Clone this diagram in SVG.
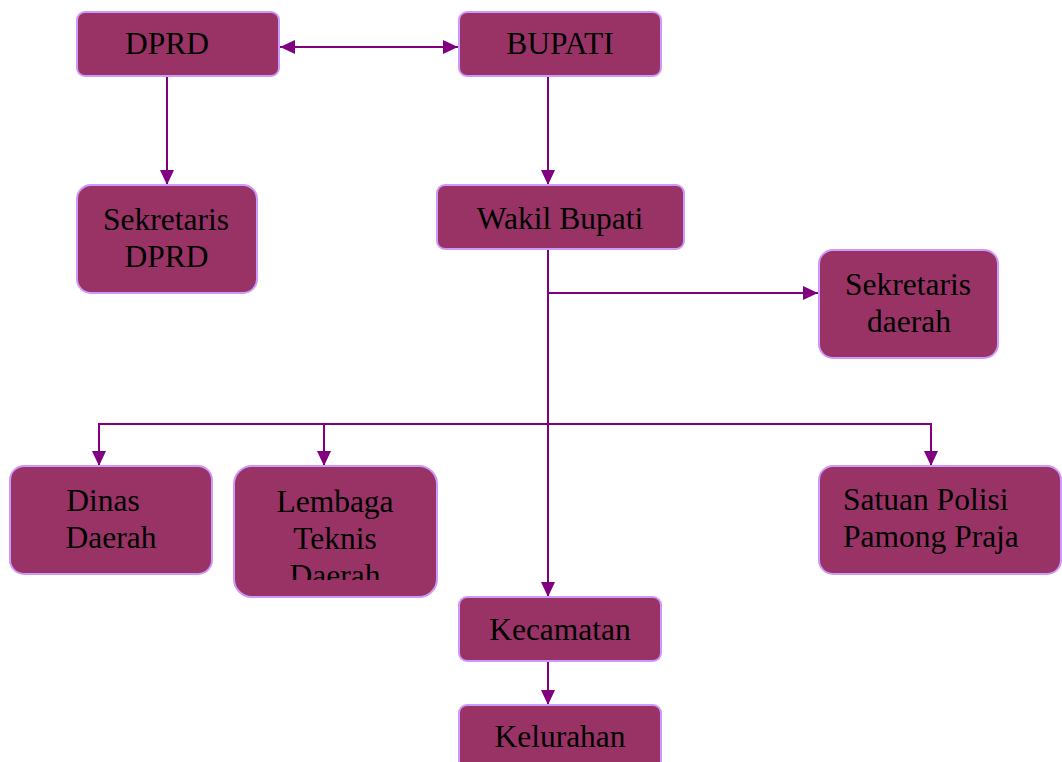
<svg xmlns="http://www.w3.org/2000/svg" width="1062" height="762" viewBox="0 0 1062 762">
<defs>
<style>
.box{fill:#993366;stroke:#cc99ff;stroke-width:2}
.t{font-family:"Liberation Serif","Times New Roman",serif;font-size:31.5px;fill:#000;text-anchor:middle}
.tl{font-family:"Liberation Serif","Times New Roman",serif;font-size:31.5px;fill:#000}
.c{stroke:#800080;stroke-width:2;fill:none}
</style>
<marker id="ah" viewBox="0 0 15 14" refX="15" refY="7" markerWidth="15" markerHeight="14" markerUnits="userSpaceOnUse" orient="auto-start-reverse">
<path d="M0,0 L15,7 L0,14 Z" fill="#800080"/>
</marker>
<clipPath id="clipL"><rect x="234" y="466" width="204" height="114"/></clipPath>
</defs>
<rect width="1062" height="762" fill="#ffffff"/>
<g id="connectors">
<line class="c" x1="280" y1="47" x2="458" y2="47" marker-start="url(#ah)" marker-end="url(#ah)"/>
<line class="c" x1="167" y1="77" x2="167" y2="185" marker-end="url(#ah)"/>
<line class="c" x1="548" y1="77" x2="548" y2="185" marker-end="url(#ah)"/>
<line class="c" x1="548" y1="250" x2="548" y2="597" marker-end="url(#ah)"/>
<line class="c" x1="548" y1="293" x2="818" y2="293" marker-end="url(#ah)"/>
<polyline class="c" points="99,466 99,424 931,424 931,466" marker-start="url(#ah)" marker-end="url(#ah)"/>
<line class="c" x1="324" y1="424" x2="324" y2="466" marker-end="url(#ah)"/>
<line class="c" x1="548" y1="662" x2="548" y2="705" marker-end="url(#ah)"/>
</g>
<g id="dprd">
<rect class="box" x="77" y="12" width="202" height="64" rx="8"/>
<text class="t" x="167" y="54">DPRD</text>
</g>
<g id="bupati">
<rect class="box" x="459" y="12" width="202" height="64" rx="8"/>
<text class="t" x="560" y="54">BUPATI</text>
</g>
<g id="sekretaris-dprd">
<rect class="box" x="77" y="185" width="180" height="108" rx="14"/>
<text class="t" x="166" y="230">Sekretaris</text>
<text class="t" x="166.5" y="267">DPRD</text>
</g>
<g id="wakil-bupati">
<rect class="box" x="437" y="185" width="247" height="64" rx="8"/>
<text class="t" x="560" y="229">Wakil Bupati</text>
</g>
<g id="sekretaris-daerah">
<rect class="box" x="819" y="250" width="179" height="108" rx="14"/>
<text class="t" x="908" y="295">Sekretaris</text>
<text class="t" x="909" y="332">daerah</text>
</g>
<g id="dinas-daerah">
<rect class="box" x="10" y="466" width="202" height="108" rx="14"/>
<text class="t" x="103" y="511">Dinas</text>
<text class="t" x="111" y="548">Daerah</text>
</g>
<g id="lembaga-teknis-daerah">
<rect class="box" x="234" y="466" width="203" height="131" rx="18"/>
<g clip-path="url(#clipL)">
<text class="t" x="335" y="512">Lembaga</text>
<text class="t" x="335" y="549">Teknis</text>
<text class="t" x="335" y="586">Daerah</text>
</g>
</g>
<g id="satpol-pp">
<rect class="box" x="819" y="466" width="242" height="108" rx="14"/>
<text class="tl" x="843" y="510">Satuan Polisi</text>
<text class="tl" x="843" y="547">Pamong Praja</text>
</g>
<g id="kecamatan">
<rect class="box" x="459" y="597" width="202" height="64" rx="8"/>
<text class="t" x="560" y="640">Kecamatan</text>
</g>
<g id="kelurahan">
<rect class="box" x="459" y="705" width="202" height="70" rx="8"/>
<text class="t" x="560" y="747">Kelurahan</text>
</g>
</svg>
